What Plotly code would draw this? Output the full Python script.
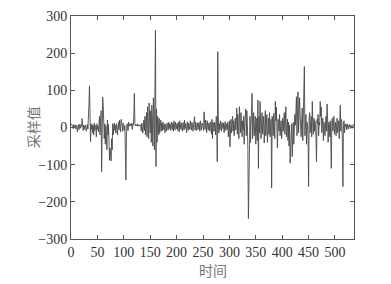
import plotly.graph_objects as go

# sample values, index 0..535
values = [
    10, 4, 6, -3, 8, 5, 2, 7, -4, 6,
    3, -12, 5, 8, -6, 4, 9, -2, 5, 3,
    24, 2, -8, 6, 4, -5, 7, 3, -10, 5,
    8, -4, 20, 60, 112, 40, -38, 10, -5, 8,
    -15, 5, -20, 12, -8, 6, 3, -25, 10, -5,
    4, -12, 8, 30, -20, 15, 45, -119, 50, 82,
    60, 20, -30, 10, -45, 5, -15, -60, 20, -20,
    8, -40, -88, -55, -70, -90, -30, -60, 10, -20,
    5, 12, -8, 6, -15, 10, 4, -20, 8, 15,
    -6, 20, 4, -12, 22, 15, 5, -10, 12, 3,
    -8, 5, -60, -141, -20, 10, 5, -8, 15, 3,
    8, 6, 10, 4, 12, -5, 8, 6, 30, 92,
    10, 5, 8, 4, 6, 10, 3, 7, 5, 4,
    8, 6, -10, 12, 5, -15, 10, 20, -8, 30,
    -20, 15, 40, -25, 56, 20, -30, 66, 35, -15,
    45, -40, 60, 30, -50, 80, 40, -60, 100, 262,
    -105, 50, -40, 30, 15, -20, 25, -15, 10, 20,
    -10, 12, -8, 15, 3, -6, 10, -14, 8, 4,
    -10, 12, 5, -7, 14, -3, 10, 6, -8, 15,
    3, -5, 12, -10, 18, 5, -7, 14, 8, -3,
    10, -8, 14, 5, -12, 18, 6, -5, 12, 3,
    -10, 14, 8, -7, 20, -3, 10, 5, -14, 15,
    6, -8, 12, 3, -5, 18, 10, -7, 14, 8,
    -10, 12, 5, 29, -7, 15, 3, -8, 12, 6,
    -5, 14, 8, -10, 18, 5, -7, 12, 10, 3,
    -8, 42, 6, -5, 20, 10, -14, 18, 3, -7,
    12, 8, -10, 15, 5, -18, 22, -30, 14, 6,
    -10, 14, 6, -20, 30, 25, -92, 204, 30, -15,
    10, -7, 18, 5, -10, 14, 8, -3, 12, -14,
    6, 16, -8, 3, 10, -5, 14, -25, 6, 18,
    -52, 10, 22, -14, 6, 30, -10, 18, -22, 14,
    25, -7, 10, 52, -18, 35, 6, -30, 56, 3,
    -14, 40, 10, -25, 18, -7, 30, -45, 14, 25,
    50, -22, 45, 14, -60, -245, -146, 22, 30, -40,
    18, 35, 92, -30, 22, 40, -22, 14, 30, -45,
    10, 25, -35, 74, -110, 30, -14, 70, 22, -30,
    14, 40, -18, 6, 30, -42, 18, 45, -22, 10,
    35, -40, 14, 25, -18, 40, -25, 10, 22, -163,
    30, 14, -22, 38, 10, -30, 70, 18, 55, -14,
    -55, 22, 14, -10, 35, -22, 6, 18, -30, 14,
    25, -10, 6, 40, -18, 45, 56, -25, 10, 22,
    -35, 14, -50, 6, -96, -60, -40, 10, -78, -30,
    14, -45, 22, 35, 6, 40, 83, -22, 30, 96,
    -14, 18, 80, 30, 10, -25, 22, 52, -35, 14,
    45, 164, -22, 18, 35, -45, 14, 6, -30, -159,
    22, 40, -14, 10, 30, -25, 70, 14, -18, 25,
    -10, 18, 6, -30, -92, 22, 10, 35, -22, 14,
    6, 70, 30, 55, -14, 10, 25, -35, 14, 6,
    -22, 18, 30, -10, 63, 22, -40, 14, 10, -25,
    18, -30, -110, 14, 25, -10, 6, 30, -18, 10,
    14, -22, 6, 25, -14, 10, 18, -30, 14, 60,
    -10, 22, 14, -40, -159, 6, 18, -14, 10, 3,
    8, -6, 10, 4, -4, 6, 2, 8, -3, 5,
    3, 6, -2, 5, 8, 4,
]
time_idx = list(range(1, len(values) + 1))

x_ticks = [0, 50, 100, 150, 200, 250, 300, 350, 400, 450, 500]
y_ticks = [-300, -200, -100, 0, 100, 200, 300]

fig = go.Figure()
fig.add_trace(go.Scatter(
    x=time_idx, y=values, mode="lines",
    line=dict(color="#4a4a4a", width=0.9),
    showlegend=False,
))

axis_common = dict(
    showline=True, linecolor="#555555", linewidth=1, mirror="allticks",
    ticks="inside", ticklen=4, tickcolor="#555555",
    showgrid=False, zeroline=False, automargin=False,
    tickfont=dict(family="Liberation Serif, Times New Roman, serif", size=14, color="#333333"),
)

fig.update_layout(
    width=391, height=284,
    margin=dict(l=71, r=37, t=16, b=45),
    paper_bgcolor="white", plot_bgcolor="white",
    xaxis=dict(range=[0, 536], tickvals=x_ticks, **axis_common),
    yaxis=dict(range=[-300, 300], tickvals=y_ticks, **axis_common),
    annotations=[
        dict(text="时间", xref="paper", yref="paper", x=0.5, y=-0.139,
             xanchor="center", yanchor="middle", showarrow=False,
             font=dict(family="Noto Sans CJK SC", size=14, color="#777777")),
        dict(text="采样值", xref="paper", yref="paper", x=-0.135, y=0.5,
             xanchor="center", yanchor="middle", textangle=-90, showarrow=False,
             font=dict(family="Noto Sans CJK SC", size=14, color="#777777")),
    ],
)

fig.write_html(
    "out.html",
    config={"displayModeBar": False},
    post_script="document.body.style.margin='0';document.body.style.overflow='hidden';",
)
